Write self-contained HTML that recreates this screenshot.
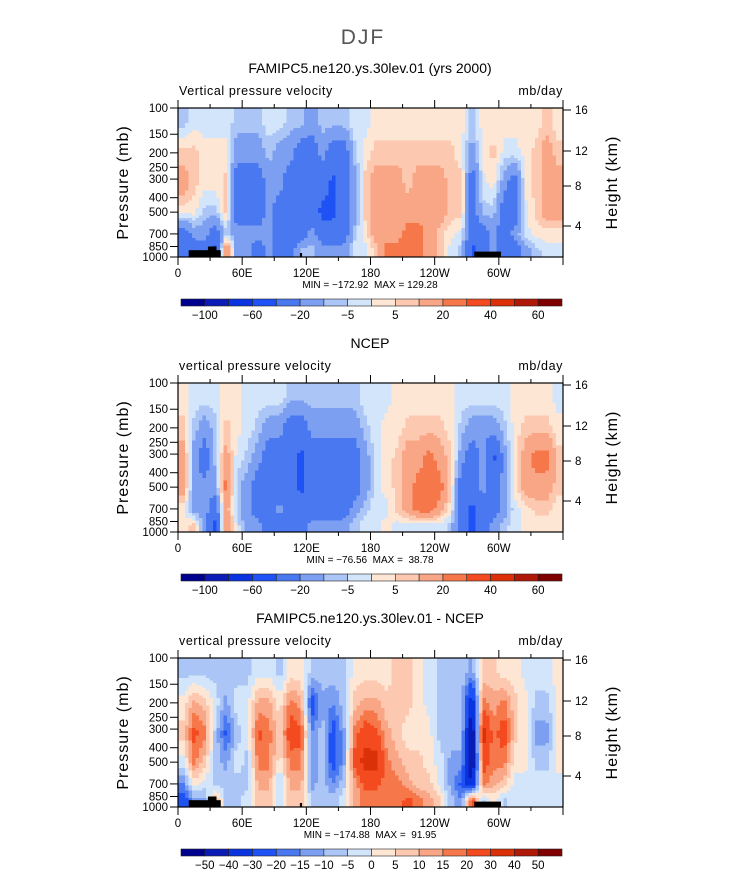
<!DOCTYPE html>
<html><head><meta charset="utf-8"><style>
body{margin:0;background:#fff;}
#root{position:relative;width:733px;height:888px;overflow:hidden;font-family:"Liberation Sans",sans-serif;}
svg text{font-family:"Liberation Sans",sans-serif;white-space:pre;}
</style></head><body>
<div id="root">
<svg id="svg" width="733" height="888" xmlns="http://www.w3.org/2000/svg">
<text x="363" y="44" font-size="21" fill="#555" text-anchor="middle" font-weight="300" letter-spacing="2">DJF</text>
</svg>
</div>
<script>
// pressure rows (mb) for the grids; longitudes are column centers 5,15,...,355
const levels=[125,200,320,500,700,900];
const lonCenters=[5,15,25,35,45,55,65,75,85,95,105,115,125,135,145,155,165,175,185,195,205,215,225,235,245,255,265,275,285,295,305,315,325,335,345,355];
const modelVals=[
[-7,7,15,2,-30,-30],[-2,7,7,2,-15,-30],[-2,2,2,-7,-15,-30],[-2,2,2,-7,-30,-45],[-2,2,7,7,-7,25],
[-7,-15,-30,-30,-15,-15],[-7,-15,-30,-30,-15,-15],[-7,-15,-30,-30,-15,-30],[-2,-7,-15,-15,-15,-15],[-2,-15,-15,-30,-30,-30],
[-7,-15,-30,-30,-30,-30],[-7,-30,-30,-30,-30,-7],[-15,-30,-30,-30,-15,-7],[-7,-15,-30,-45,-30,-15],[-7,-30,-45,-45,-30,-15],
[-7,-30,-30,-30,-30,-15],[-2,-7,-15,-15,-7,-2],[-2,2,7,7,2,-2],[2,7,15,15,15,7],[2,7,15,15,15,25],
[2,7,15,15,15,25],[2,7,7,15,25,25],[2,7,15,15,25,25],[2,7,15,15,15,15],[2,7,15,15,7,7],
[2,7,7,7,2,-2],[2,2,7,7,-2,-7],[-7,-15,-30,-30,-30,-45],[2,2,-2,-7,-30,-30],[2,7,2,-7,-15,-15],
[2,-2,-15,-30,-30,-30],[2,-2,-30,-30,-15,-30],[2,2,2,-2,-2,-15],[2,7,7,7,2,-7],[7,15,15,15,2,-2],[2,7,15,15,2,-2]];
const ncepVals=[
[2,7,15,15,2,2],[-2,-7,-15,-15,-15,7],[-2,-15,-30,-15,-15,-15],[-2,-7,-7,-15,-30,-45],[2,7,15,25,15,25],
[2,2,-2,-7,-7,-2],[-2,-2,-7,-15,-15,-15],[-2,-7,-15,-30,-30,-15],[-2,-15,-30,-30,-30,-30],[-2,-15,-30,-30,-15,-30],
[-7,-30,-30,-30,-30,-30],[-7,-30,-45,-45,-30,-30],[-7,-15,-30,-30,-30,-15],[-7,-15,-30,-30,-30,-15],[-7,-15,-30,-30,-30,-15],
[-7,-15,-30,-30,-30,-15],[-7,-15,-30,-30,-15,-7],[-2,-7,-15,-15,-7,-2],[-2,-2,-2,-2,-2,-2],[-2,2,2,2,-2,2],
[2,2,7,7,7,-2],[2,7,15,15,15,-2],[2,7,15,25,25,-2],[2,7,25,25,25,-2],[2,7,15,25,15,-2],
[2,2,7,7,2,-7],[-2,-7,-15,-30,-30,-30],[-2,-15,-30,-30,-45,-45],[-2,-15,-15,-15,-30,-30],[-2,-15,-45,-30,-30,-15],
[-2,-7,-15,-15,-15,-7],[2,2,2,2,-2,-2],[2,7,15,15,2,2],[2,7,25,15,7,2],[2,7,25,15,7,2],[-2,2,7,7,2,2]];
const diffVals=[
[-7,2,7,-2,-15,-25],[-7,12,22,17,2,-12],[-7,7,17,7,-2,-12],[-7,-2,-7,-7,-7,12],[-7,-12,-22,-12,-7,-7],
[-7,-2,-7,-2,-7,-7],[-7,-2,-2,-7,-7,-2],[-2,12,22,17,12,7],[-2,12,17,17,12,7],[-7,2,7,2,-7,-2],
[2,17,25,17,12,7],[2,12,22,17,12,7],[-7,-25,-15,-15,-12,-7],[-7,-12,-7,-7,-7,-7],[-7,-15,-25,-25,-15,-7],
[-7,-7,-12,-12,-7,-2],[2,7,17,22,12,12],[2,12,25,35,22,17],[2,12,22,35,22,17],[2,7,12,17,17,17],
[7,7,7,12,17,17],[7,7,2,7,12,22],[2,2,2,7,7,17],[-2,-2,2,2,7,12],[-7,-7,-7,-2,-2,7],
[-7,-7,-7,-12,-12,-7],[-7,-7,-7,-12,-22,-15],[-12,-40,-55,-55,-40,25],[7,17,35,25,17,-7],[7,12,17,17,12,2],
[2,17,25,17,7,-7],[2,7,7,2,-2,-2],[-2,2,2,2,-2,-2],[-2,-7,-12,-7,-2,-2],[-2,-7,-12,-7,-2,-2],[2,2,2,2,-2,-2]];
const bounds12=[-100,-80,-60,-40,-20,-10,-5,0,5,10,20,30,40,50,60];
const boundsDiff=[-50,-40,-30,-20,-15,-10,-5,0,5,10,15,20,30,40,50];
const cbLabels12=["−100","−60","−20","−5","5","20","40","60"];
const cbLabelsDiff=["−50","−40","−30","−20","−15","−10","−5","0","5","10","15","20","30","40","50"];
const xTickVals=[0,60,120,180,240,300];
const xTickLabels=["0","60E","120E","180","120W","60W"];
const pTicks=[100,150,200,250,300,400,500,700,850,1000];
const hTicks=[4,8,12,16];
const hTickY=[118,78,43,2];
const palette=["#00008f","#0a1cb5","#0a34e0","#1e52f5","#4a78f0","#7c9ff2","#aac5f6","#d3e5fb","#fee6d4","#fcc8b0","#f8a685","#f6774a","#f34b1f","#dc3008","#b01808","#800000"];
const titles=["FAMIPC5.ne120.ys.30lev.01 (yrs 2000)","NCEP","FAMIPC5.ne120.ys.30lev.01 - NCEP"];
const subs=["Vertical pressure velocity","vertical pressure velocity","vertical pressure velocity"];
const minmax=["MIN = −172.92  MAX = 129.28","MIN = −76.56  MAX =  38.78","MIN = −174.88  MAX =  91.95"];

const NS="http://www.w3.org/2000/svg";
const svg=document.getElementById('svg');
function mk(tag,attrs,parent){const e=document.createElementNS(NS,tag);for(const k in attrs)e.setAttribute(k,attrs[k]);(parent||svg).appendChild(e);return e;}
const X0=178,X1=563,H=149;
const xs=lon=>X0+lon/360*(X1-X0);
const ys=(top,p)=>top+Math.log10(p/100)*H;
function colorIdx(v,b){let i=0;while(i<b.length&&v>=b[i])i++;return i;}
function sample(vals,lon,p){
  let fi=(lon-5)/10;fi=Math.max(0,Math.min(35,fi));const i0=Math.floor(fi),i1=Math.min(35,i0+1),tx=fi-i0;
  const lp=Math.log(p);const ll=levels.map(Math.log);
  let j0=0;if(lp<=ll[0]){j0=0;}else if(lp>=ll[5]){j0=4;}else{while(ll[j0+1]<lp)j0++;}
  let ty=(lp-ll[j0])/(ll[j0+1]-ll[j0]);ty=Math.max(0,Math.min(1,ty));
  const a=vals[i0][j0]*(1-tx)+vals[i1][j0]*tx, b=vals[i0][j0+1]*(1-tx)+vals[i1][j0+1]*tx;
  return a*(1-ty)+b*ty;
}
const tops=[108,383,658];
const allVals=[modelVals,ncepVals,diffVals];
tops.forEach((top,k)=>{
  const g=mk('g',{});
  
  
  const t=mk('text',{x:370,y:top-35,'font-size':14,'text-anchor':'middle',fill:'#000'},g);t.textContent=titles[k];
  
  const s=mk('text',{x:179,y:top-13,'font-size':12.5,fill:'#000','letter-spacing':'0.6'},g);s.textContent=subs[k];
  
  const u=mk('text',{x:563,y:top-13,'font-size':12.5,fill:'#000','text-anchor':'end','letter-spacing':'0.6'},g);u.textContent="mb/day";
  
  const field=mk('g',{'shape-rendering':'crispEdges'},g);
  
  const b=k==2?boundsDiff:bounds12;
  const dx=3.5,nx=Math.ceil((X1-X0)/dx),dy=2.5,ny=Math.ceil(H/dy);
  for(let j=0;j<ny;j++){
    const y=top+j*dy; const p=100*Math.pow(10,(j*dy+dy/2)/H);
    let runStart=0,runC=-1;
    for(let i=0;i<=nx;i++){
      let c=-1;
      if(i<nx){const lon=(i*dx+dx/2)/(X1-X0)*360;c=colorIdx(sample(allVals[k],lon,p),b);}
      if(c!==runC){
        if(runC>=0){const w=Math.min(i*dx,X1-X0)-runStart*dx;
          const r=mk('rect',{x:X0+runStart*dx,y:y,width:w,height:Math.min(dy,top+H-y)+0.3,fill:palette[runC]},field);
          }
        runStart=i;runC=c;
      }
    }
  }
  if(k!==1){
    [[10,40,900],[28,36,850],[114,116,940],[277,302,920]].forEach(tb=>{
      const r=mk('rect',{x:xs(tb[0]),y:ys(top,tb[2]),width:xs(tb[1])-xs(tb[0]),height:top+H-ys(top,tb[2]),fill:'#000'},g);
      
    });
  }
  mk('rect',{x:X0,y:top,width:X1-X0,height:H,fill:'none',stroke:'#000','stroke-width':1.2},g);
  for(let lon=0;lon<=360;lon+=30){
    const major=lon%60===0;const L=major?8:4;
    mk('line',{x1:xs(lon),x2:xs(lon),y1:top+H,y2:top+H+L,stroke:'#000'},g);
    mk('line',{x1:xs(lon),x2:xs(lon),y1:top,y2:top-L,stroke:'#000'},g);
  }
  xTickVals.forEach((v,i)=>{const tt=mk('text',{x:xs(v),y:top+H+20,'font-size':11.5,'text-anchor':'middle'},g);tt.textContent=xTickLabels[i];
    });
  const mm=mk('text',{x:370,y:top+H+31,'font-size':10,'text-anchor':'middle'},g);mm.textContent=minmax[k];
  
  pTicks.forEach(p=>{const y=ys(top,p);mk('line',{x1:X0,x2:X0-8,y1:y,y2:y,stroke:'#000'},g);
    const tt=mk('text',{x:168,y:y+4,'font-size':11.5,'text-anchor':'end'},g);tt.textContent=p;
    });
  hTicks.forEach((h,i)=>{const y=top+hTickY[i];mk('line',{x1:X1,x2:X1+8,y1:y,y2:y,stroke:'#000'},g);
    const tt=mk('text',{x:575,y:y+4,'font-size':11.5},g);tt.textContent=h;
    });
  const yl=mk('text',{x:0,y:0,'font-size':16,'text-anchor':'middle','letter-spacing':'1',transform:`translate(128,${top+H/2}) rotate(-90)`},g);yl.textContent="Pressure (mb)";
  
  const hl=mk('text',{x:0,y:0,'font-size':16,'text-anchor':'middle','letter-spacing':'1',transform:`translate(617,${top+H/2}) rotate(-90)`},g);hl.textContent="Height (km)";
  
  const cy=top+191,cx0=181,cx1=562,cw=(cx1-cx0)/16;
  const cb=mk('g',{},g);
  palette.forEach((c,i)=>{const r=mk('rect',{x:cx0+i*cw,y:cy,width:cw,height:7,fill:c,stroke:'#222','stroke-width':0.6},cb);
    });
  const labs=k==2?cbLabelsDiff:cbLabels12;
  labs.forEach((l,i)=>{const bi=k==2?i:i*2;const tt=mk('text',{x:cx0+(bi+1)*cw,y:cy+20,'font-size':11.5,'text-anchor':'middle'},cb);tt.textContent=l;
    });
});
</script>
</body></html>
